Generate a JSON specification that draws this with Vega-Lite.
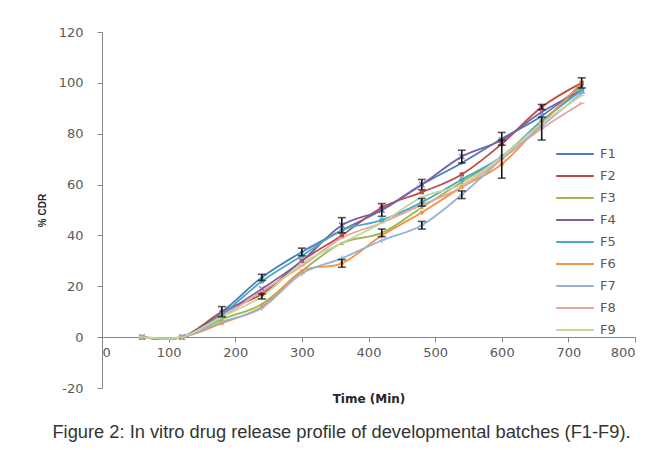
{
  "$schema": "https://vega.github.io/schema/vega-lite/v6.json",
  "width": 533,
  "height": 356,
  "autosize": "none",
  "padding": {"left": 102, "top": 32, "right": 32, "bottom": 62},
  "background": "white",
  "config": {"view": {"stroke": null}, "font": "DejaVu Sans"},
  "title": {
    "text": "Figure 2: In vitro drug release profile of developmental batches (F1-F9).",
    "orient": "bottom",
    "anchor": "middle",
    "font": "Liberation Sans",
    "fontSize": 18.3,
    "fontWeight": "normal",
    "color": "#333333",
    "offset": 20,
    "dx": -27
  },
  "data": {
    "values": [
      {"t": 60, "batch": "F1", "cdr": 0, "sd": 0}, {"t": 120, "batch": "F1", "cdr": 0, "sd": 0}, {"t": 180, "batch": "F1", "cdr": 10, "sd": 2}, {"t": 240, "batch": "F1", "cdr": 23.5, "sd": 1.2}, {"t": 300, "batch": "F1", "cdr": 33.5, "sd": 1.5}, {"t": 360, "batch": "F1", "cdr": 42, "sd": 0}, {"t": 420, "batch": "F1", "cdr": 50, "sd": 2.5}, {"t": 480, "batch": "F1", "cdr": 60, "sd": 2}, {"t": 540, "batch": "F1", "cdr": 68.5, "sd": 0}, {"t": 600, "batch": "F1", "cdr": 78, "sd": 2.5}, {"t": 660, "batch": "F1", "cdr": 87, "sd": 0}, {"t": 720, "batch": "F1", "cdr": 99, "sd": 0},
      {"t": 60, "batch": "F2", "cdr": 0, "sd": 0}, {"t": 120, "batch": "F2", "cdr": 0, "sd": 0}, {"t": 180, "batch": "F2", "cdr": 10, "sd": 0}, {"t": 240, "batch": "F2", "cdr": 17, "sd": 0}, {"t": 300, "batch": "F2", "cdr": 30, "sd": 0}, {"t": 360, "batch": "F2", "cdr": 40, "sd": 0}, {"t": 420, "batch": "F2", "cdr": 51, "sd": 0}, {"t": 480, "batch": "F2", "cdr": 57, "sd": 0}, {"t": 540, "batch": "F2", "cdr": 64, "sd": 0}, {"t": 600, "batch": "F2", "cdr": 76, "sd": 0}, {"t": 660, "batch": "F2", "cdr": 90.5, "sd": 1}, {"t": 720, "batch": "F2", "cdr": 100, "sd": 2},
      {"t": 60, "batch": "F3", "cdr": 0, "sd": 0}, {"t": 120, "batch": "F3", "cdr": 0, "sd": 0}, {"t": 180, "batch": "F3", "cdr": 7, "sd": 0}, {"t": 240, "batch": "F3", "cdr": 13, "sd": 0}, {"t": 300, "batch": "F3", "cdr": 26, "sd": 0}, {"t": 360, "batch": "F3", "cdr": 37, "sd": 0}, {"t": 420, "batch": "F3", "cdr": 41, "sd": 1.5}, {"t": 480, "batch": "F3", "cdr": 51, "sd": 0}, {"t": 540, "batch": "F3", "cdr": 61, "sd": 0}, {"t": 600, "batch": "F3", "cdr": 71, "sd": 0}, {"t": 660, "batch": "F3", "cdr": 85, "sd": 0}, {"t": 720, "batch": "F3", "cdr": 98, "sd": 0},
      {"t": 60, "batch": "F4", "cdr": 0, "sd": 0}, {"t": 120, "batch": "F4", "cdr": 0, "sd": 0}, {"t": 180, "batch": "F4", "cdr": 9, "sd": 0}, {"t": 240, "batch": "F4", "cdr": 19, "sd": 0}, {"t": 300, "batch": "F4", "cdr": 30, "sd": 0}, {"t": 360, "batch": "F4", "cdr": 44, "sd": 3}, {"t": 420, "batch": "F4", "cdr": 50, "sd": 0}, {"t": 480, "batch": "F4", "cdr": 60, "sd": 0}, {"t": 540, "batch": "F4", "cdr": 71, "sd": 2.5}, {"t": 600, "batch": "F4", "cdr": 77.5, "sd": 0}, {"t": 660, "batch": "F4", "cdr": 88.5, "sd": 0}, {"t": 720, "batch": "F4", "cdr": 97, "sd": 0},
      {"t": 60, "batch": "F5", "cdr": 0, "sd": 0}, {"t": 120, "batch": "F5", "cdr": 0, "sd": 0}, {"t": 180, "batch": "F5", "cdr": 9, "sd": 0}, {"t": 240, "batch": "F5", "cdr": 22, "sd": 0}, {"t": 300, "batch": "F5", "cdr": 32, "sd": 0}, {"t": 360, "batch": "F5", "cdr": 42, "sd": 0}, {"t": 420, "batch": "F5", "cdr": 46, "sd": 0}, {"t": 480, "batch": "F5", "cdr": 53, "sd": 1.5}, {"t": 540, "batch": "F5", "cdr": 62, "sd": 0}, {"t": 600, "batch": "F5", "cdr": 71, "sd": 0}, {"t": 660, "batch": "F5", "cdr": 85, "sd": 0}, {"t": 720, "batch": "F5", "cdr": 97, "sd": 0},
      {"t": 60, "batch": "F6", "cdr": 0, "sd": 0}, {"t": 120, "batch": "F6", "cdr": 0, "sd": 0}, {"t": 180, "batch": "F6", "cdr": 5.5, "sd": 0}, {"t": 240, "batch": "F6", "cdr": 12, "sd": 0}, {"t": 300, "batch": "F6", "cdr": 26, "sd": 0}, {"t": 360, "batch": "F6", "cdr": 29, "sd": 1.5}, {"t": 420, "batch": "F6", "cdr": 40, "sd": 0}, {"t": 480, "batch": "F6", "cdr": 49, "sd": 0}, {"t": 540, "batch": "F6", "cdr": 59, "sd": 0}, {"t": 600, "batch": "F6", "cdr": 68, "sd": 0}, {"t": 660, "batch": "F6", "cdr": 84, "sd": 0}, {"t": 720, "batch": "F6", "cdr": 100, "sd": 0},
      {"t": 60, "batch": "F7", "cdr": 0, "sd": 0}, {"t": 120, "batch": "F7", "cdr": 0, "sd": 0}, {"t": 180, "batch": "F7", "cdr": 6, "sd": 0}, {"t": 240, "batch": "F7", "cdr": 11.5, "sd": 0}, {"t": 300, "batch": "F7", "cdr": 25, "sd": 0}, {"t": 360, "batch": "F7", "cdr": 31, "sd": 0}, {"t": 420, "batch": "F7", "cdr": 38, "sd": 0}, {"t": 480, "batch": "F7", "cdr": 44, "sd": 1.5}, {"t": 540, "batch": "F7", "cdr": 56, "sd": 1.5}, {"t": 600, "batch": "F7", "cdr": 70, "sd": 7.5}, {"t": 660, "batch": "F7", "cdr": 83, "sd": 0}, {"t": 720, "batch": "F7", "cdr": 96, "sd": 0},
      {"t": 60, "batch": "F8", "cdr": 0, "sd": 0}, {"t": 120, "batch": "F8", "cdr": 0, "sd": 0}, {"t": 180, "batch": "F8", "cdr": 8, "sd": 0}, {"t": 240, "batch": "F8", "cdr": 18, "sd": 0}, {"t": 300, "batch": "F8", "cdr": 28, "sd": 0}, {"t": 360, "batch": "F8", "cdr": 39, "sd": 0}, {"t": 420, "batch": "F8", "cdr": 45, "sd": 0}, {"t": 480, "batch": "F8", "cdr": 52, "sd": 0}, {"t": 540, "batch": "F8", "cdr": 59, "sd": 0}, {"t": 600, "batch": "F8", "cdr": 70, "sd": 0}, {"t": 660, "batch": "F8", "cdr": 82, "sd": 4.5}, {"t": 720, "batch": "F8", "cdr": 92, "sd": 0},
      {"t": 60, "batch": "F9", "cdr": 0, "sd": 0}, {"t": 120, "batch": "F9", "cdr": 0, "sd": 0}, {"t": 180, "batch": "F9", "cdr": 8, "sd": 0}, {"t": 240, "batch": "F9", "cdr": 16, "sd": 1}, {"t": 300, "batch": "F9", "cdr": 29, "sd": 0}, {"t": 360, "batch": "F9", "cdr": 37, "sd": 0}, {"t": 420, "batch": "F9", "cdr": 45, "sd": 0}, {"t": 480, "batch": "F9", "cdr": 55, "sd": 0}, {"t": 540, "batch": "F9", "cdr": 60, "sd": 0}, {"t": 600, "batch": "F9", "cdr": 71, "sd": 0}, {"t": 660, "batch": "F9", "cdr": 84, "sd": 0}, {"t": 720, "batch": "F9", "cdr": 95, "sd": 0}
    ]
  },
  "encoding": {
    "x": {
      "field": "t", "type": "quantitative", "title": "Time (Min)",
      "scale": {"domain": [0, 800], "nice": false},
      "axis": {
        "values": [0, 100, 200, 300, 400, 500, 600, 700, 800],
        "offset": -51,
        "grid": false,
        "domainColor": "#868686", "tickColor": "#868686", "tickSize": 5,
        "labelFont": "DejaVu Sans", "labelFontSize": 13, "labelColor": "#595959", "labelPadding": 4,
        "titleFont": "DejaVu Sans", "titleFontSize": 12, "titleFontWeight": "bold", "titleColor": "#262626",
        "titleY": 61, "titleBaseline": "middle"
      }
    },
    "y": {
      "field": "cdr", "type": "quantitative", "title": "% CDR",
      "scale": {"domain": [-20, 120], "nice": false, "zero": false},
      "axis": {
        "values": [-20, 0, 20, 40, 60, 80, 100, 120],
        "labelExpr": "datum.value < 0 ? '-' + abs(datum.value) : '' + datum.value",
        "grid": false,
        "domainColor": "#868686", "tickColor": "#868686", "tickSize": 5,
        "labelFont": "DejaVu Sans", "labelFontSize": 13, "labelColor": "#595959", "labelPadding": 14,
        "titleFont": "Liberation Sans", "titleFontSize": 10, "titleFontWeight": "bold", "titleColor": "#262626",
        "titleX": -60, "titleY": 178, "titleAngle": -90, "titleAlign": "center", "titleBaseline": "middle"
      }
    }
  },
  "layer": [
    {
      "mark": {"type": "line", "interpolate": "cardinal", "strokeWidth": 1.8},
      "encoding": {
        "color": {
          "field": "batch", "type": "nominal",
          "scale": {
            "domain": ["F1", "F2", "F3", "F4", "F5", "F6", "F7", "F8", "F9"],
            "range": ["#4A7EBB", "#BE4B48", "#98B954", "#7D60A0", "#46AAC5", "#F69240", "#95B3D7", "#E6A3A1", "#C3D69B"]
          },
          "legend": {
            "title": null, "orient": "none", "legendX": 464, "legendY": 113, "padding": 0,
            "symbolType": "M-2.35,0H2.35", "symbolSize": 256, "symbolStrokeWidth": 2,
            "rowPadding": 6, "labelOffset": 16,
            "labelFont": "DejaVu Sans", "labelFontSize": 13, "labelColor": "#595959"
          }
        }
      }
    },
    {"transform": [{"filter": "datum.batch == 'F1'"}], "mark": {"type": "point", "shape": "diamond", "filled": true, "size": 18, "color": "#4A7EBB", "opacity": 1}},
    {"transform": [{"filter": "datum.batch == 'F2'"}], "mark": {"type": "point", "shape": "square", "filled": true, "size": 18, "color": "#BE4B48", "opacity": 1}},
    {"transform": [{"filter": "datum.batch == 'F3'"}], "mark": {"type": "point", "shape": "triangle-up", "filled": true, "size": 18, "color": "#98B954", "opacity": 1}},
    {"transform": [{"filter": "datum.batch == 'F4'"}], "mark": {"type": "point", "shape": "M-1,-1L1,1M-1,1L1,-1", "filled": false, "size": 30, "strokeWidth": 1.2, "color": "#7D60A0", "opacity": 1}},
    {"transform": [{"filter": "datum.batch == 'F5'"}], "mark": {"type": "point", "shape": "M-1,0L1,0M0,-1L0,1M-0.7,-0.7L0.7,0.7M-0.7,0.7L0.7,-0.7", "filled": false, "size": 30, "strokeWidth": 1.2, "color": "#46AAC5", "opacity": 1}},
    {"transform": [{"filter": "datum.batch == 'F6'"}], "mark": {"type": "point", "shape": "circle", "filled": true, "size": 18, "color": "#F69240", "opacity": 1}},
    {"transform": [{"filter": "datum.batch == 'F7'"}], "mark": {"type": "point", "shape": "M-1,0L1,0M0,-1L0,1", "filled": false, "size": 30, "strokeWidth": 1.2, "color": "#95B3D7", "opacity": 1}},
    {"transform": [{"filter": "datum.batch == 'F8'"}], "mark": {"type": "point", "shape": "M-1,0L1,0", "filled": false, "size": 30, "strokeWidth": 1.2, "color": "#E6A3A1", "opacity": 1}},
    {"transform": [{"filter": "datum.batch == 'F9'"}], "mark": {"type": "point", "shape": "M-1,0L1,0", "filled": false, "size": 30, "strokeWidth": 1.2, "color": "#C3D69B", "opacity": 1}},
    {
      "transform": [{"filter": "datum.sd > 0"}],
      "mark": {"type": "errorbar", "ticks": {"size": 8}, "color": "#111111", "thickness": 1.6},
      "encoding": {
        "yError": {"field": "sd"}
      }
    }
  ]
}
